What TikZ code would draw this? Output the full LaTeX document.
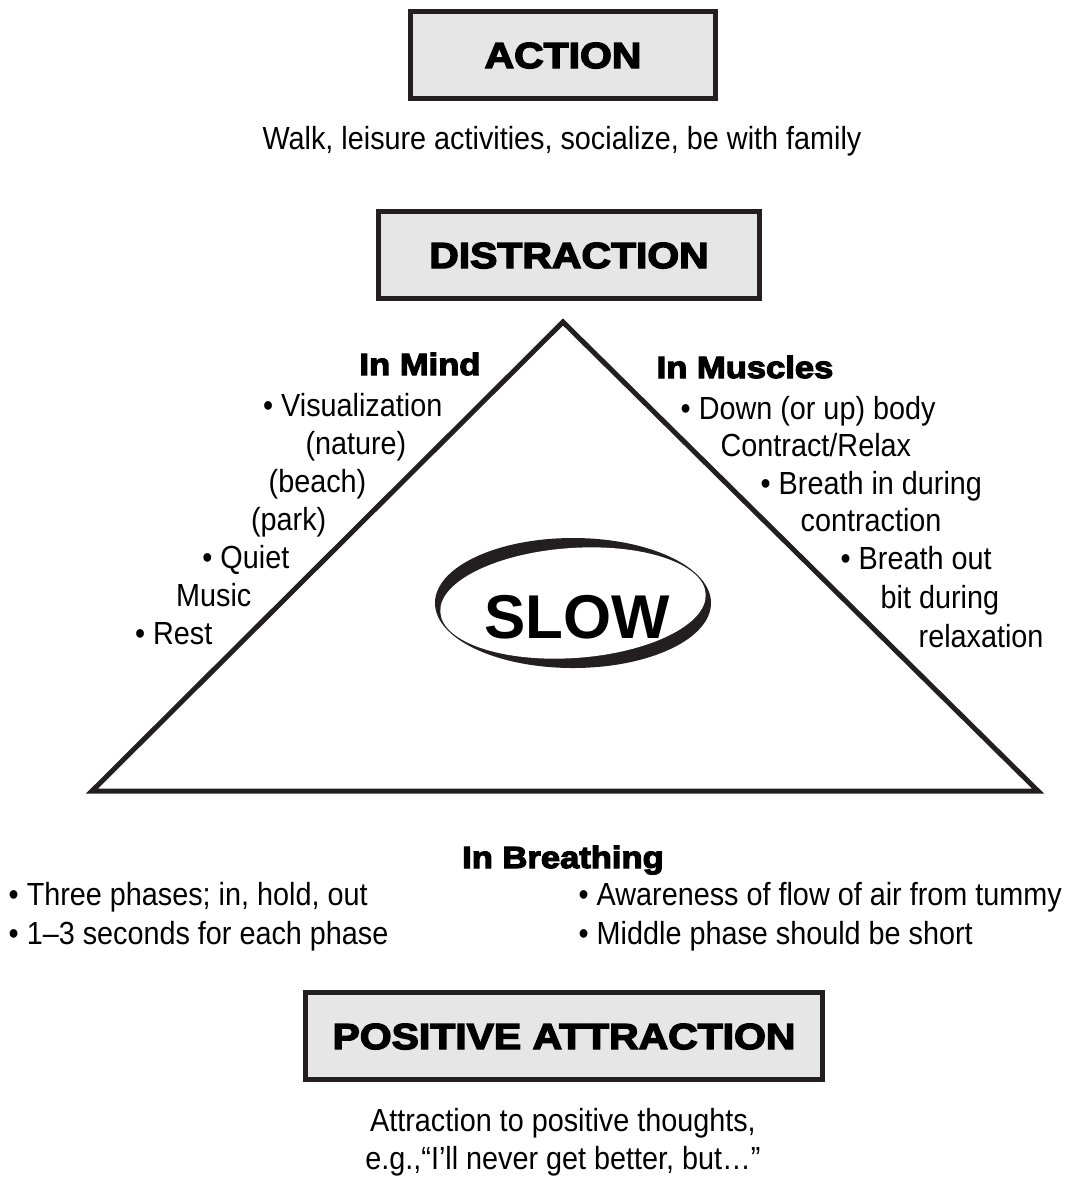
\documentclass[tikz,border=0pt]{standalone}
\usepackage{fontspec}
\setmainfont{Liberation Sans}[FakeStretch=0.9]
\newfontfamily\headfont{Liberation Sans}[FakeStretch=1.13,BoldFeatures={FakeBold=4}]
\newfontfamily\slowfont{Liberation Sans}
\definecolor{boxgray}{HTML}{E6E6E6}
\definecolor{ink}{HTML}{231F20}

\tikzset{
  titlebox/.style={draw=ink, line width=0.05cm, fill=boxgray, inner sep=0pt,
    minimum height=0.87cm, text height=0.26cm, text depth=0pt,
    font={\headfont\bfseries\fontsize{10.3}{12}\selectfont}},
  subhead/.style={inner sep=0pt, text height=0.22cm, text depth=0pt,
    font={\headfont\bfseries\fontsize{8.7}{10}\selectfont}},
  item/.style={inner sep=0pt, text height=0.23cm, text depth=0pt,
    font={\fontsize{9.1}{11}\selectfont}},
}

\begin{document}
\begin{tikzpicture}
\useasboundingbox (0,0) rectangle (10.76,-11.82);

% Boxes
\node[titlebox, minimum width=3.05cm] (action) at (5.63,-0.55) {ACTION};
\node[item] (walk) at (5.62,-1.38) {Walk, leisure activities, socialize, be with family};
\node[titlebox, minimum width=3.81cm] (distraction) at (5.69,-2.55) {DISTRACTION};

% Triangle
\coordinate (apex) at (5.63,-3.22);
\coordinate (bl) at (0.92,-7.91);
\coordinate (br) at (10.38,-7.91);
\draw[ink, line width=0.05cm, line join=miter] (apex) -- (bl) -- (br) -- cycle;

% SLOW ring
\fill[ink] (5.73,-6.03) ellipse [x radius=1.38, y radius=0.65];
\fill[white, rotate around={4:(5.73,-6.03)}] (5.73,-6.03) ellipse [x radius=1.33, y radius=0.55];
\node[inner sep=0pt, text height=0.44cm, text depth=0pt,
  font={\slowfont\bfseries\fontsize{17.6}{20}\selectfont}] (slow) at (5.77,-6.16) {SLOW};

% In Mind
\node[subhead] (mind) at (4.20,-3.64) {In Mind};
\node[item, anchor=east] (mind1) at (4.43,-4.05) {• Visualization};
\node[item, anchor=east] (mind2) at (4.07,-4.43) {(nature)};
\node[item, anchor=east] (mind3) at (3.67,-4.81) {(beach)};
\node[item, anchor=east] (mind4) at (3.27,-5.19) {(park)};
\node[item, anchor=east] (mind5) at (2.90,-5.57) {• Quiet};
\node[item, anchor=east] (mind6) at (2.52,-5.95) {Music};
\node[item, anchor=east] (mind7) at (2.13,-6.33) {• Rest};

% In Muscles
\node[subhead] (muscles) at (7.45,-3.67) {In Muscles};
\node[item, anchor=west] (musc1) at (6.80,-4.08) {• Down (or up) body};
\node[item, anchor=west] (musc2) at (7.20,-4.45) {Contract/Relax};
\node[item, anchor=west] (musc3) at (7.60,-4.83) {• Breath in during};
\node[item, anchor=west] (musc4) at (8.00,-5.20) {contraction};
\node[item, anchor=west] (musc5) at (8.40,-5.58) {• Breath out};
\node[item, anchor=west] (musc6) at (8.80,-5.97) {bit during};
\node[item, anchor=west] (musc7) at (9.18,-6.36) {relaxation};

% In Breathing
\node[subhead] (breathing) at (5.63,-8.57) {In Breathing};
\node[item, anchor=west] (breath1) at (0.08,-8.94) {• Three phases; in, hold, out};
\node[item, anchor=west] (breath2) at (0.08,-9.33) {• 1–3 seconds for each phase};
\node[item, anchor=west] (breath3) at (5.78,-8.94) {• Awareness of flow of air from tummy};
\node[item, anchor=west] (breath4) at (5.78,-9.33) {• Middle phase should be short};

% Positive attraction
\node[titlebox, minimum width=5.17cm] (positive) at (5.64,-10.36) {POSITIVE ATTRACTION};
\node[item] (attr1) at (5.63,-11.20) {Attraction to positive thoughts,};
\node[item] (attr2) at (5.63,-11.58) {e.g.,“I’ll never get better, but…”};
\end{tikzpicture}
\end{document}
